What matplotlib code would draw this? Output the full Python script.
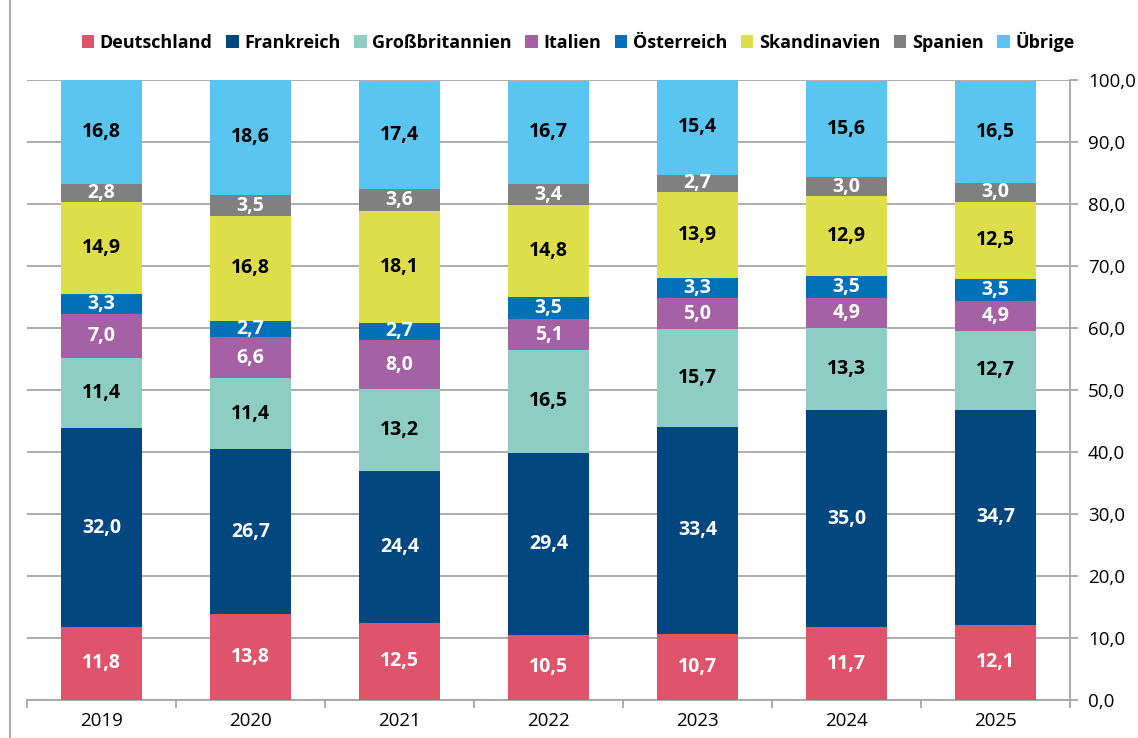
import matplotlib.pyplot as plt
import numpy as np
from matplotlib.lines import Line2D

years = ["2019", "2020", "2021", "2022", "2023", "2024", "2025"]
countries = ["Deutschland", "Frankreich", "Großbritannien", "Italien",
             "Österreich", "Skandinavien", "Spanien", "Übrige"]
deutschland = [11.8, 13.8, 12.5, 10.5, 10.7, 11.7, 12.1]
frankreich = [32.0, 26.7, 24.4, 29.4, 33.4, 35.0, 34.7]
grossbritannien = [11.4, 11.4, 13.2, 16.5, 15.7, 13.3, 12.7]
italien = [7.0, 6.6, 8.0, 5.1, 5.0, 4.9, 4.9]
oesterreich = [3.3, 2.7, 2.7, 3.5, 3.3, 3.5, 3.5]
skandinavien = [14.9, 16.8, 18.1, 14.8, 13.9, 12.9, 12.5]
spanien = [2.8, 3.5, 3.6, 3.4, 2.7, 3.0, 3.0]
uebrige = [16.8, 18.6, 17.4, 16.7, 15.4, 15.6, 16.5]
series = [deutschland, frankreich, grossbritannien, italien,
          oesterreich, skandinavien, spanien, uebrige]

colors = ["#E0546B", "#00467F", "#8DCDC3", "#A462A5",
          "#0070B8", "#DEDE4B", "#808080", "#5BC5F2"]
text_colors = ["white", "white", "black", "white",
               "white", "black", "white", "black"]

plt.rcParams['font.family'] = ['Open Sans', 'DejaVu Sans']

fig = plt.figure(figsize=(11.38, 7.38), dpi=100)
ax = fig.add_axes([27 / 1138, 1 - 700 / 738, (1070 - 27) / 1138, 620 / 738])

x = np.arange(len(years))
bottom = np.zeros(len(years))
for name, vals, c, tc in zip(countries, series, colors, text_colors):
    vals = np.array(vals)
    ax.bar(x, vals, width=0.55, bottom=bottom, color=c, label=name, zorder=3)
    for xi, b, v in zip(x, bottom, vals):
        ax.text(xi, b + v / 2, f"{v:.1f}".replace(".", ","), ha="center",
                va="center", color=tc, fontsize=14, fontweight="bold", zorder=4)
    bottom += vals

ax.set_xlim(-0.5, len(years) - 0.5)
ax.set_ylim(0, 100)
ax.yaxis.tick_right()
ax.set_yticks(np.arange(0, 101, 10))
ax.set_yticklabels([f"{v:.1f}".replace(".", ",") for v in np.arange(0, 101, 10)])
ax.grid(axis="y", color="#A6A6A6", linewidth=1.3, zorder=0)
ax.set_xticks(x)
ax.set_xticklabels(years)
ax.set_xticks(np.arange(-0.5, len(years), 1), minor=True)
ax.tick_params(axis="x", which="major", length=0, labelsize=13.5, pad=9)
ax.tick_params(axis="x", which="minor", length=6, color="#A6A6A6", width=1.3)
ax.tick_params(axis="y", length=6, color="#A6A6A6", width=1.3, labelsize=13.5, pad=7)

for s in ["top", "left"]:
    ax.spines[s].set_visible(False)
for s in ["bottom", "right"]:
    ax.spines[s].set_color("#A6A6A6")
    ax.spines[s].set_linewidth(1.3)

ax.legend(loc="center", bbox_to_anchor=(578 / 1138, 1 - 42 / 738),
          bbox_transform=fig.transFigure, ncol=8, frameon=False,
          handlelength=0.7, handleheight=0.7, handletextpad=0.3,
          columnspacing=0.75, prop={"weight": "bold", "size": 13})

fig.add_artist(Line2D([10 / 1138, 10 / 1138], [0, 1], color="#A6A6A6", linewidth=1.3))

plt.savefig("out.png", dpi=100)
